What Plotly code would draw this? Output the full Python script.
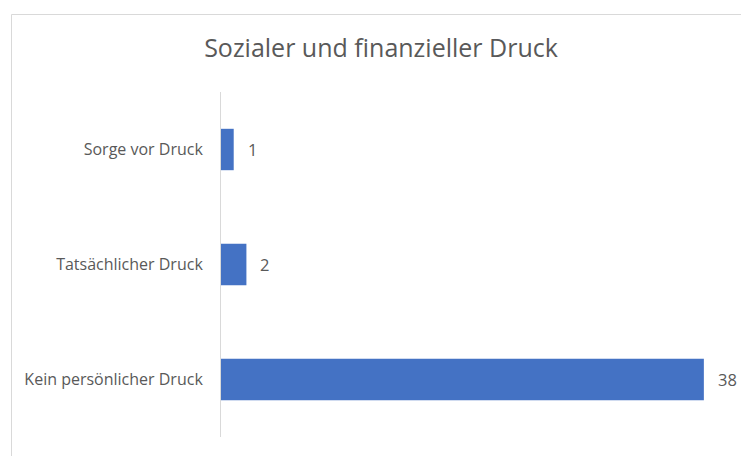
import plotly.graph_objects as go

categories = ["Sorge vor Druck", "Tatsächlicher Druck", "Kein persönlicher Druck"]
values = [1, 2, 38]
title_text = "Sozialer und finanzieller Druck"

W, H = 741, 456
L, R, T, B = 221, 13, 92, 19
pw, ph = W - L - R, H - T - B

FONT = "Open Sans, Noto Sans, sans-serif"
TXT = "#595959"

fig = go.Figure(
    go.Bar(
        y=categories,
        x=values,
        orientation="h",
        marker=dict(color="#4472C4", line=dict(width=0)),
        width=0.36,
        hoverinfo="skip",
    )
)

for c, v in zip(categories, values):
    fig.add_annotation(
        x=v, y=c, text=str(v), showarrow=False, xanchor="left", xshift=12,
        font=dict(family=FONT, size=16.5, color=TXT),
    )

def px_x(p):
    return (p - L) / pw

def px_y(p):
    return (H - B - p) / ph

fig.add_shape(
    type="rect", xref="paper", yref="paper",
    x0=px_x(11.5), x1=px_x(760), y0=px_y(475), y1=px_y(14.5),
    line=dict(color="#d9d9d9", width=1), fillcolor="rgba(0,0,0,0)", layer="below",
)

fig.update_layout(
    width=W, height=H,
    margin=dict(l=L, r=R, t=T, b=B),
    paper_bgcolor="white", plot_bgcolor="white",
    showlegend=False,
    title=dict(
        text=title_text, x=381 / W, xanchor="center",
        y=1 - 48 / H, yanchor="middle",
        font=dict(family=FONT, size=25, color=TXT),
    ),
    xaxis=dict(range=[0, 39.9], visible=False, fixedrange=True),
    yaxis=dict(
        autorange=False, range=[2.5, -0.5], categoryorder="array",
        categoryarray=categories,
        showline=True, linecolor="#d9d9d9", linewidth=1,
        showgrid=False, zeroline=False, ticks="",
        ticklabelstandoff=14,
        tickfont=dict(family=FONT, size=16, color=TXT),
        fixedrange=True,
    ),
)

fig.write_html("out.html", config={"displayModeBar": False},
               post_script="document.body.style.margin='0';")
